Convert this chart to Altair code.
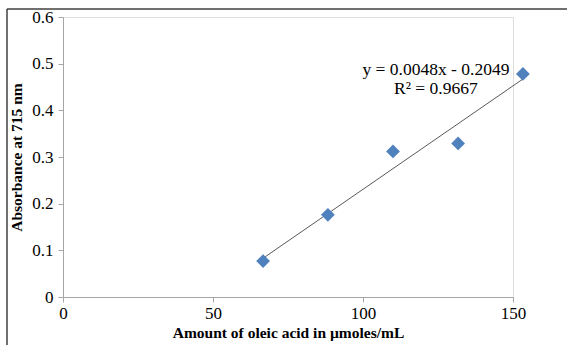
import altair as alt
import pandas as pd

# data (positions as drawn against the printed axis)
oleic = [66.7, 88.3, 110.0, 131.7, 153.3]
absorbance = [0.077, 0.176, 0.312, 0.329, 0.478]
slope = 0.0048
intercept = -0.2049
fit_x = [66.7, 153.3]          # trend line drawn from first to last point
fit_y = [0.0831, 0.4671]       # 0.0048*60-0.2049, 0.0048*140-0.2049
eq_lines = ["y = 0.0048x - 0.2049", "R² = 0.9667"]
eq_x = [124.3, 124.3]
eq_y = [0.486, 0.445]

pts = pd.DataFrame({"x": oleic, "y": absorbance})
fit = pd.DataFrame({"x": fit_x, "y": fit_y})
eq = pd.DataFrame({"t": eq_lines, "x": eq_x, "y": eq_y})

FONT = "Liberation Serif"
xscale = alt.Scale(domain=[0, 150], nice=False, zero=True)
yscale = alt.Scale(domain=[0, 0.6], nice=False)

xaxis = alt.Axis(values=[0, 50, 100, 150], title="Amount of oleic acid in µmoles/mL",
                 grid=False, domainColor="#a6a6a6", tickColor="#a6a6a6", tickSize=5,
                 labelFlush=False, labelOverlap=False,
                 labelFont=FONT, labelFontSize=17, labelColor="#000000", labelPadding=3,
                 titleFont=FONT, titleFontSize=15.5, titleFontWeight="bold", titleColor="#000000",
                 titlePadding=4)
yaxis = alt.Axis(values=[0, 0.1, 0.2, 0.3, 0.4, 0.5, 0.6], format=".1~f", title="Absorbance at 715 nm",
                 grid=False, domainColor="#a6a6a6", tickColor="#a6a6a6", tickSize=5,
                 labelFlush=False, labelOverlap=False,
                 labelFont=FONT, labelFontSize=17, labelColor="#000000", labelPadding=5,
                 titleFont=FONT, titleFontSize=15.5, titleFontWeight="bold", titleColor="#000000",
                 titlePadding=7)

points = alt.Chart(pts).mark_point(shape="diamond", filled=True, size=190, color="#4f81bd", opacity=1,
                                   clip=False).encode(
    x=alt.X("x:Q", scale=xscale, axis=xaxis),
    y=alt.Y("y:Q", scale=yscale, axis=yaxis),
)
line = alt.Chart(fit).mark_line(color="#595959", strokeWidth=1, clip=False).encode(
    x=alt.X("x:Q", scale=xscale), y=alt.Y("y:Q", scale=yscale))
text = alt.Chart(eq).mark_text(font=FONT, fontSize=17.5, color="#000000", align="center").encode(
    x=alt.X("x:Q", scale=xscale), y=alt.Y("y:Q", scale=yscale), text="t:N")

frame_left = alt.Chart(pd.DataFrame({"a": [0]})).mark_rule(color="#404040", strokeWidth=1.5, clip=False).encode(
    x=alt.value(-56), y=alt.value(-8), y2=alt.value(330))
frame_top = alt.Chart(pd.DataFrame({"a": [0]})).mark_rule(color="#404040", strokeWidth=1.5, clip=False).encode(
    x=alt.value(-56), x2=alt.value(506), y=alt.value(-8))

chart = alt.layer(line, points, text, frame_left, frame_top).properties(
    width=450, height=280,
    autosize=alt.AutoSizeParams(type="none"),
    padding={"left": 63, "top": 17, "right": 54, "bottom": 48},
).configure_view(stroke=None).configure(background="white")

chart.save("out.html", embed_options={"renderer": "svg", "actions": False})
